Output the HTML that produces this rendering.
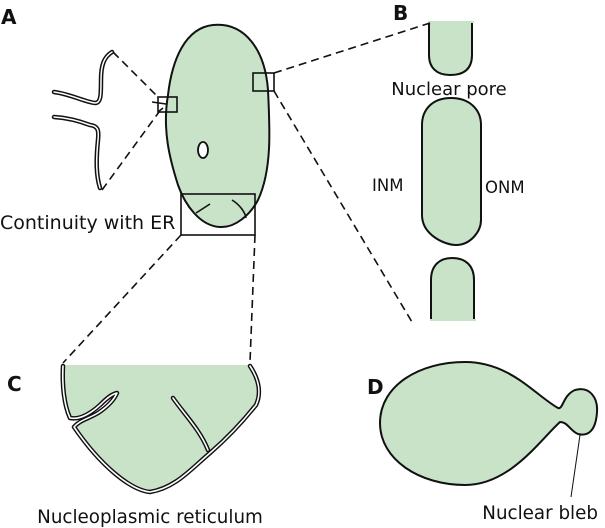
<!DOCTYPE html>
<html><head><meta charset="utf-8"><style>
html,body{margin:0;padding:0;background:#fff}
svg{display:block}
text{font-family:"DejaVu Sans","Liberation Sans",sans-serif;fill:#111}
</style></head><body>
<svg width="605" height="528" viewBox="0 0 605 528" xmlns="http://www.w3.org/2000/svg">
<g fill="#c9e3c9" stroke="#111" stroke-width="2">
<path d="M213,25 C245,22 265,50 268,90 C270,130 272,170 258,200 C250,215 235,228 220,227 C200,226 185,205 178,185 C170,160 162,130 168,95 C172,60 185,28 213,25 Z"/>
<path d="M429,23 L429,55 C429,68 437,75 450,75 C465,75 472,68 472,55 L472,23" />
<path d="M451,98 C470,98 481,110 481,125 L481,220 C481,232 470,245 456,245 C445,245 422,235 422,215 L422,125 C422,110 432,98 451,98 Z"/>
<path d="M431,320 L431,280 C431,265 440,258 452,258 C466,258 474,266 474,280 L474,320"/>
<path d="M380,423 C380,385 420,362 465,362 C510,362 535,395 558,408 C563,410 563,395 575,390 C590,386 598,398 597,412 C596,428 590,437 578,434 C570,431 568,422 560,422 C540,440 510,485 465,485 C420,485 380,460 380,423 Z"/>
</g>
<rect x="428" y="21" width="46" height="2" fill="#c9e3c9"/>
<rect x="430" y="319" width="46" height="2" fill="#c9e3c9"/>
<ellipse cx="203" cy="150" rx="5" ry="8" fill="#fff" stroke="#111" stroke-width="1.8"/>
<g fill="none" stroke="#111" stroke-width="1.6">
<rect x="158" y="97" width="19" height="15"/>
<rect x="253" y="73" width="21" height="18"/>
<rect x="181" y="194" width="74" height="41"/>
<path d="M196,213 L210,204 M232,200 C240,205 245,212 246,218"/>
<path d="M152,102 L166,104 M158,112 L163,108"/>
</g>
<g fill="none" stroke="#111" stroke-width="1.6" stroke-dasharray="8,5">
<path d="M113,52 L159,98"/>
<path d="M102,190 L159,112"/>
<path d="M274,73 L430,23"/>
<path d="M274,91 L412,322"/>
<path d="M181,235 L63,363"/>
<path d="M255,235 L250,362"/>
</g>
<g fill="none" stroke-linecap="round">
<path d="M54,92 C70,94 85,102 95,103 C101,103 101,95 101,80 C101,65 104,57 112,52" stroke="#111" stroke-width="4.5"/>
<path d="M54,92 C70,94 85,102 95,103 C101,103 101,95 101,80 C101,65 104,57 112,52" stroke="#fff" stroke-width="1.5"/>
<path d="M54,117 C70,118 82,122 90,125 C98,126 99,130 98,140 C96,160 96,175 100,188" stroke="#111" stroke-width="4.5"/>
<path d="M54,117 C70,118 82,122 90,125 C98,126 99,130 98,140 C96,160 96,175 100,188" stroke="#fff" stroke-width="1.5"/>
</g>
<path d="M63,365 L250,365 C258,380 262,395 256,405 C240,425 225,440 210,453 C190,470 175,488 150,492 C130,490 100,465 75,428 C72,420 85,420 95,415 C105,410 115,400 117,393 C110,393 100,405 90,412 C80,418 72,420 70,418 C64,400 62,380 63,365 Z" fill="#c9e3c9"/>
<g fill="none" stroke-linecap="round" stroke-linejoin="round">
<g stroke="#111" stroke-width="4.5">
<path d="M63,366 C62,385 64,405 70,418 C80,420 90,414 100,405 C107,398 112,394 117,393 C114,400 107,407 98,413 C88,419 80,420 74,427 C100,465 130,490 150,492 C175,488 190,470 210,453 C225,440 240,425 256,405 C262,392 258,378 250,366"/>
<path d="M173,398 C185,415 200,430 208,450"/>
</g>
<g stroke="#fff" stroke-width="1.6">
<path d="M63,366 C62,385 64,405 70,418 C80,420 90,414 100,405 C107,398 112,394 117,393 C114,400 107,407 98,413 C88,419 80,420 74,427 C100,465 130,490 150,492 C175,488 190,470 210,453 C225,440 240,425 256,405 C262,392 258,378 250,366"/>
<path d="M173,398 C185,415 200,430 208,450"/>
</g>
</g>
<line x1="580" y1="435" x2="571" y2="497" stroke="#111" stroke-width="1"/>
<text x="1" y="24" font-size="20" font-weight="bold">A</text>
<text x="393" y="20" font-size="20" font-weight="bold">B</text>
<text x="7" y="391" font-size="20" font-weight="bold">C</text>
<text x="367" y="394" font-size="20" font-weight="bold">D</text>
<text x="0" y="229" font-size="19">Continuity with ER</text>
<text x="449" y="95" font-size="18" text-anchor="middle">Nuclear pore</text>
<text x="372" y="191" font-size="16.5">INM</text>
<text x="485" y="193" font-size="16.5">ONM</text>
<text x="150" y="523" font-size="18.3" text-anchor="middle">Nucleoplasmic reticulum</text>
<text x="598" y="519" font-size="18.3" text-anchor="end">Nuclear bleb</text>
</svg>
</body></html>
